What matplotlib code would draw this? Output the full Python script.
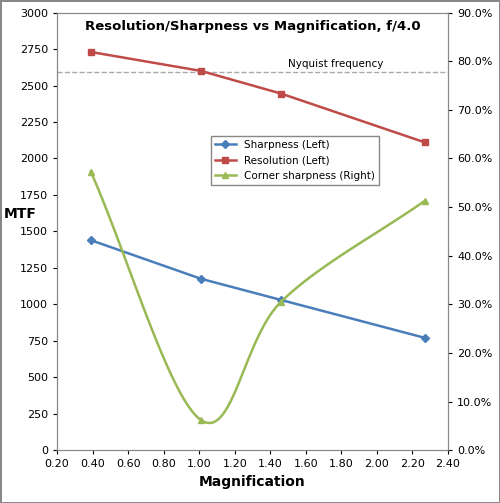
import numpy as np
import matplotlib
matplotlib.use("Agg")
import matplotlib.pyplot as plt
from matplotlib.ticker import FuncFormatter

mag = [0.39, 1.01, 1.46, 2.27]
sharpness = [1440, 1175, 1030, 770]
resolution = [2730, 2600, 2445, 2110]
corner = [57.3, 6.2, 30.5, 51.3]
nyquist = 2590


def smooth(x, y, n=40):
    # Catmull-Rom style smoothing like Excel's smoothed line
    x = np.asarray(x, float); y = np.asarray(y, float)
    px = np.concatenate([[2*x[0]-x[1]], x, [2*x[-1]-x[-2]]])
    py = np.concatenate([[2*y[0]-y[1]], y, [2*y[-1]-y[-2]]])
    xs, ys = [], []
    for i in range(1, len(px)-2):
        t = np.linspace(0, 1, n)
        for p, out in ((px, xs), (py, ys)):
            p0, p1, p2, p3 = p[i-1], p[i], p[i+1], p[i+2]
            out.extend(0.5*((2*p1) + (-p0+p2)*t + (2*p0-5*p1+4*p2-p3)*t**2
                            + (-p0+3*p1-3*p2+p3)*t**3))
    return xs, ys


fig = plt.figure(figsize=(5.0, 5.03), dpi=100)
fig.patch.set_edgecolor("#888888")
fig.patch.set_linewidth(1)
ax = fig.add_axes([0.114, 0.105, 0.782, 0.87])
ax2 = ax.twinx()

ax.axhline(nyquist, color="#aaaaaa", ls="--", lw=1)
ax.text(1.5, nyquist + 40, "Nyquist frequency", fontsize=7.5)

l1, = ax.plot(mag, sharpness, color="#4a7ebb", lw=1.8, marker="D", ms=4, label="Sharpness (Left)")
l2, = ax.plot(mag, resolution, color="#be4b48", lw=1.8, marker="s", ms=4.5, label="Resolution (Left)")
cx, cy = smooth(mag, corner)
ax2.plot(cx, cy, color="#98b954", lw=1.8)
l3, = ax2.plot(mag, corner, color="#98b954", lw=0, marker="^", ms=5, label="Corner sharpness (Right)")
l3b = matplotlib.lines.Line2D([], [], color="#98b954", lw=1.8, marker="^", ms=5)

ax.set_xlim(0.2, 2.4)
ax.set_xticks(np.arange(0.2, 2.41, 0.2))
ax.xaxis.set_major_formatter(FuncFormatter(lambda v, p: f"{v:.2f}"))
ax.set_ylim(0, 3000)
ax.set_yticks(range(0, 3001, 250))
ax2.set_ylim(0, 90)
ax2.set_yticks(range(0, 91, 10))
ax2.yaxis.set_major_formatter(FuncFormatter(lambda v, p: f"{v:.1f}%"))
for a in (ax, ax2):
    a.tick_params(labelsize=8, length=3)
    for s in a.spines.values():
        s.set_color("#888888")

ax.set_xlabel("Magnification", fontsize=10, fontweight="bold")
ax.set_ylabel("MTF", fontsize=10, fontweight="bold", rotation=0, ha="center", va="center")
ax.yaxis.set_label_coords(-0.095, 0.54)
ax.set_title("Resolution/Sharpness vs Magnification, f/4.0", fontsize=9.5,
             fontweight="bold", y=0.94)

leg = ax.legend([l1, l2, l3b], [l1.get_label(), l2.get_label(), l3.get_label()],
                loc="upper left", bbox_to_anchor=(0.38, 0.73), fontsize=7.5,
                fancybox=False, edgecolor="#888888", framealpha=1)
fig.savefig("out.png", dpi=100)
